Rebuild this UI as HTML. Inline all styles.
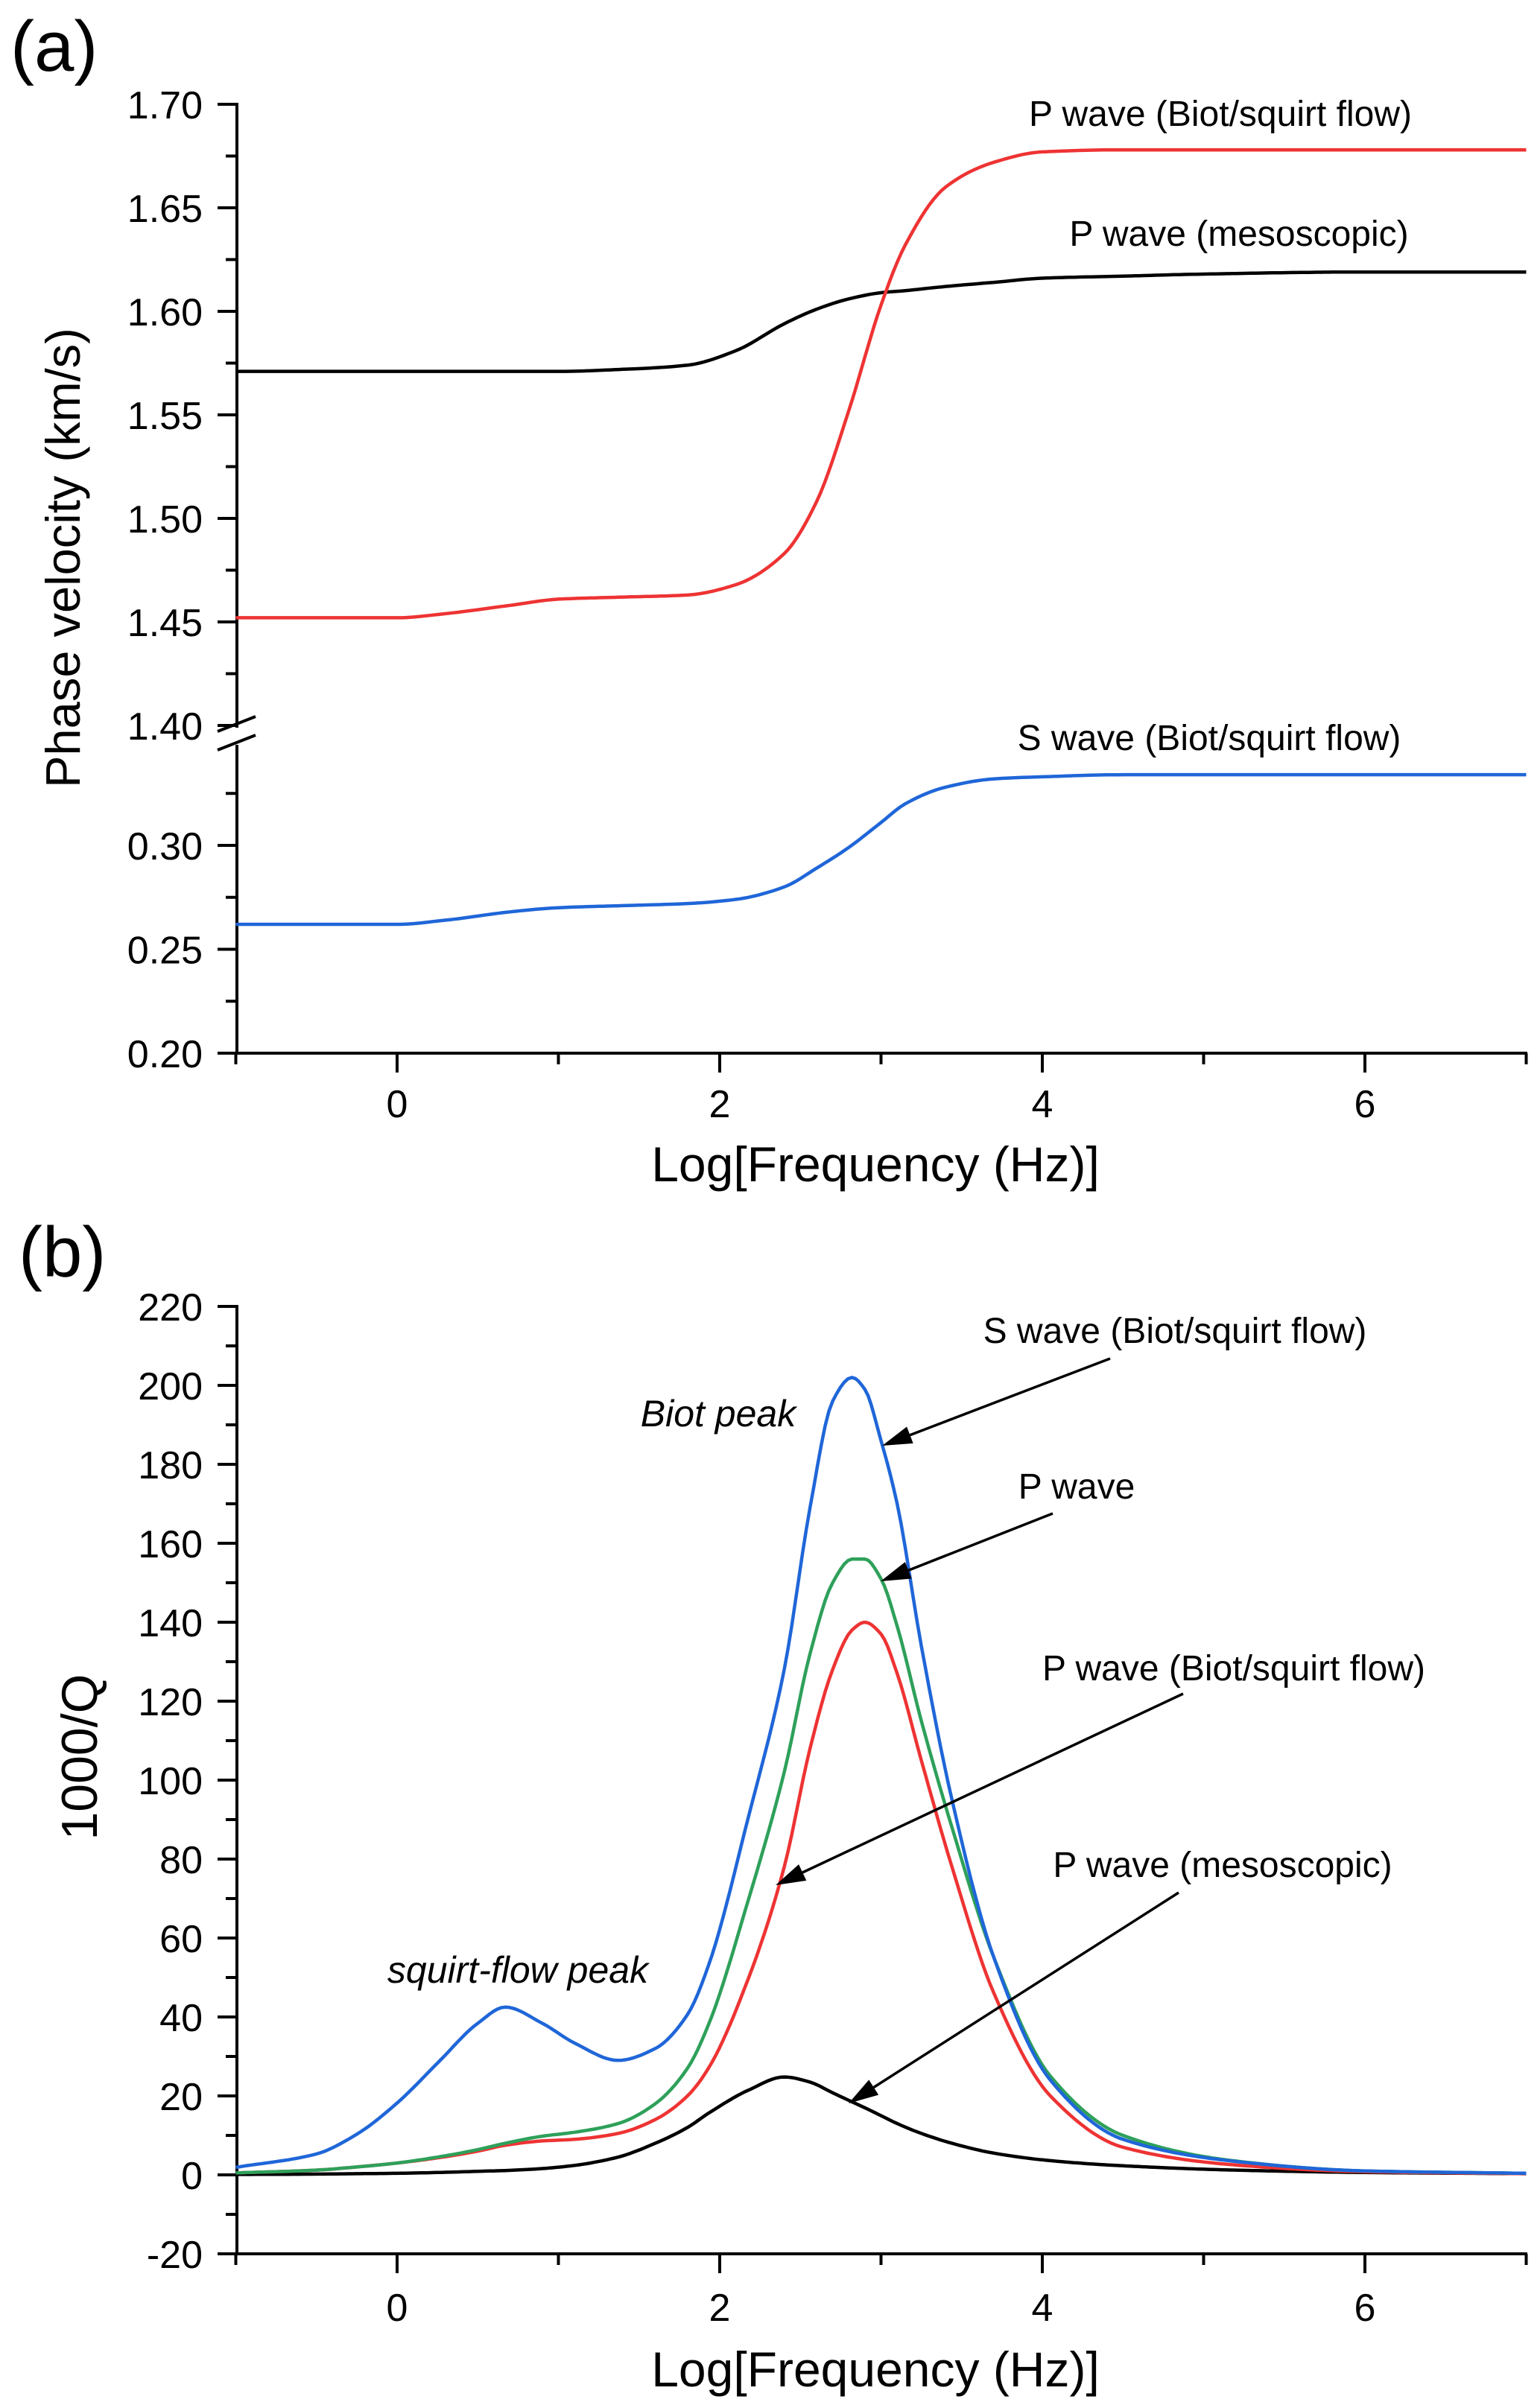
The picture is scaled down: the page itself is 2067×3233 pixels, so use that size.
<!DOCTYPE html>
<html><head><meta charset="utf-8"><style>
html,body{margin:0;padding:0;background:#fff}
svg{display:block;font-family:"Liberation Sans",Arial,sans-serif}
</style></head><body>
<svg id="fig" width="2067" height="3233" viewBox="0 0 2067 3233" xmlns="http://www.w3.org/2000/svg">
<g id="pa"></g>
<g id="pb"></g>
</svg>
<script>
// ---------- Panel A data ----------
const aX = [-1,0,0.3,0.7,1.0,1.4,1.8,2.1,2.4,2.6,2.8,3.0,3.15,3.4,3.7,4.0,4.5,5,6,7];
const aMeso = [1.571,1.571,1.571,1.571,1.571,1.572,1.574,1.581,1.594,1.601,1.606,1.609,1.610,1.612,1.614,1.616,1.617,1.618,1.619,1.619];
const aPBiot = [1.452,1.452,1.454,1.458,1.461,1.462,1.463,1.468,1.483,1.508,1.552,1.603,1.632,1.660,1.672,1.677,1.678,1.678,1.678,1.678];
const aSBiot = [0.262,0.262,0.264,0.268,0.270,0.271,0.272,0.274,0.280,0.289,0.299,0.311,0.320,0.328,0.332,0.333,0.334,0.334,0.334,0.334];
const aUpperTicks = ["1.40","1.45","1.50","1.55","1.60","1.65","1.70"];
const aLowerTicks = ["0.20","0.25","0.30"];
const xTicks = ["0","2","4","6"];
// ---------- Panel B data ----------
const bX = [-1,-0.5,-0.25,0,0.25,0.5,0.67,0.9,1.1,1.37,1.6,1.8,1.93,2.18,2.4,2.56,2.7,2.82,2.9,3.0,3.1,3.25,3.44,3.7,4.05,4.5,5.2,6,7];
const bS = [1.9,5.3,10.3,18.2,28.3,38.4,42.5,38.4,33.4,29,32,40.6,53,91,128,169,196,202,199,186,170,134,95,55,24,9,3.4,1,0.4];
const bP = [0.5,1.2,2,3,4.5,6.4,8,9.8,10.8,13,18,27,38,70,102,132,150,156,156,151,139,115,88,55,25,10,3.5,1,0.4];
const bPBiot = [0.5,1.2,2,3,4.3,6,7.5,8.6,9,10.5,14,20,27,50,78,108,128,138,140,137,127,105,78,46,20,7,2.5,0.8,0.3];
const bMeso = [0.1,0.2,0.3,0.4,0.6,0.9,1.1,1.6,2.4,4.5,8,12,15.6,21.5,24.8,23.5,20.8,18.5,17,15,13,10.5,8,5.5,3.6,2.3,1.2,0.6,0.3];
const bTicks = ["-20","0","20","40","60","80","100","120","140","160","180","200","220"];

const NS="http://www.w3.org/2000/svg";
function mk(parent,tag,attrs,text){const e=document.createElementNS(NS,tag);for(const k in attrs)e.setAttribute(k,attrs[k]);if(text!==undefined)e.textContent=text;parent.appendChild(e);return e;}
const xs = v => 533 + (v)*216.5;
const yUp = v => 140 + (1.70 - v)/0.05*139;
const yLo = v => 1414 - (v - 0.20)/0.05*139.5;
const yB = v => 2920 - v/20*106;

// monotone cubic (Fritsch-Carlson) interpolation, sampled finely
function pathFrom(X,Y,fx,fy){
  const n=X.length,h=[],d=[],m=new Array(n);
  for(let i=0;i<n-1;i++){h[i]=X[i+1]-X[i];d[i]=(Y[i+1]-Y[i])/h[i];}
  m[0]=d[0];m[n-1]=d[n-2];
  for(let i=1;i<n-1;i++){
    if(d[i-1]*d[i]<=0)m[i]=0;
    else{const w1=2*h[i]+h[i-1],w2=h[i]+2*h[i-1];m[i]=(w1+w2)/(w1/d[i-1]+w2/d[i]);}
  }
  let pts=[];
  for(let i=0;i<n-1;i++){
    const steps=Math.max(4,Math.ceil(h[i]*40));
    for(let k=(i===0?0:1);k<=steps;k++){
      const t=k/steps,t2=t*t,t3=t2*t;
      const y=(2*t3-3*t2+1)*Y[i]+(t3-2*t2+t)*h[i]*m[i]+(-2*t3+3*t2)*Y[i+1]+(t3-t2)*h[i]*m[i+1];
      pts.push(fx(X[i]+t*h[i]).toFixed(1)+","+fy(y).toFixed(1));
    }
  }
  return "M"+pts.join(" L");
}
function txt(g,x,y,s,size,opts){
  return mk(g,"text",Object.assign({x:x,y:y,"font-size":size,fill:"#000"},opts||{}),s);
}
function xAxis(g,y0,labY,titleY){
  const ax=mk(g,"line",{x1:316,y1:y0,x2:2050,y2:y0,stroke:"#000","stroke-width":4});
  
  
  for(let v=-1;v<=7;v++){
    const big=(v%2===0);
    mk(g,"line",{x1:xs(v),y1:y0,x2:xs(v),y2:y0+(big?26:15),stroke:"#000","stroke-width":4});
  }
  xTicks.forEach(s=>{
    const t=txt(g,xs(+s),labY,s,52,{"text-anchor":"middle"});
    
    
  });
  const tt=txt(g,1175,titleY,"Log[Frequency (Hz)]",66,{"text-anchor":"middle"});
  
  
}
function curve(g,xa,ya,fy,color,name){
  const p=mk(g,"path",{d:pathFrom(xa,ya,xs,fy),fill:"none",stroke:color,"stroke-width":4.5,"stroke-linejoin":"round"});
  
  
}
function arrow(g,x1,y1,x2,y2,name){
  const a=mk(g,"g",{});
  
  
  const dx=x2-x1,dy=y2-y1,L=Math.hypot(dx,dy),ux=dx/L,uy=dy/L;
  const hl=40,hw=12;
  const bx=x2-ux*hl,by=y2-uy*hl;
  mk(a,"line",{x1:x1,y1:y1,x2:bx,y2:by,stroke:"#000","stroke-width":3.5});
  mk(a,"polygon",{points:`${x2},${y2} ${bx-uy*hw},${by+ux*hw} ${bx+uy*hw},${by-ux*hw}`,fill:"#000"});
}

// ---------- Panel A ----------
const ga=document.getElementById("pa");
let t=txt(ga,14,95,"(a)",96);  
mk(ga,"line",{x1:318,y1:138,x2:318,y2:977,stroke:"#000","stroke-width":4});
mk(ga,"line",{x1:318,y1:1000,x2:318,y2:1416,stroke:"#000","stroke-width":4});
for(let i=0;i<=12;i++){const v=1.40+i*0.025;const y=yUp(v);mk(ga,"line",{x1:318,y1:y,x2:318-(i%2===0?26:15),y2:y,stroke:"#000","stroke-width":4});}
aUpperTicks.forEach(s=>{const e=txt(ga,272,yUp(+s)+19,s,52,{"text-anchor":"end"});});
for(let i=0;i<=5;i++){const v=0.20+i*0.025;const y=yLo(v);mk(ga,"line",{x1:318,y1:y,x2:318-(i%2===0?26:15),y2:y,stroke:"#000","stroke-width":4});}
aLowerTicks.forEach(s=>{const e=txt(ga,272,yLo(+s)+19,s,52,{"text-anchor":"end"});});
mk(ga,"line",{x1:292,y1:982,x2:343,y2:962,stroke:"#000","stroke-width":4});
mk(ga,"line",{x1:292,y1:1007,x2:343,y2:987,stroke:"#000","stroke-width":4});
xAxis(ga,1414,1500,1586);
t=txt(ga,0,0,"Phase velocity (km/s)",65,{"text-anchor":"middle",transform:"translate(107,749) rotate(-90)"});
 
curve(ga,aX,aMeso,yUp,"#000","p-wave-mesoscopic-velocity");
curve(ga,aX,aPBiot,yUp,"#ee3333","p-wave-biot-velocity");
curve(ga,aX,aSBiot,yLo,"#1f66d8","s-wave-biot-velocity");
t=txt(ga,1638,169,"P wave (Biot/squirt flow)",48,{"text-anchor":"middle"});  
t=txt(ga,1663,330,"P wave (mesoscopic)",48,{"text-anchor":"middle"});  
t=txt(ga,1623,1007,"S wave (Biot/squirt flow)",48,{"text-anchor":"middle"});  

// ---------- Panel B ----------
const gb=document.getElementById("pb");
t=txt(gb,25,1714,"(b)",96);  
mk(gb,"line",{x1:318,y1:1752,x2:318,y2:3028,stroke:"#000","stroke-width":4});
for(let v=-20;v<=220;v+=10){const y=yB(v);mk(gb,"line",{x1:318,y1:y,x2:318-(v%20===0?26:15),y2:y,stroke:"#000","stroke-width":4});}
bTicks.forEach(s=>{const e=txt(gb,272,yB(+s)+19,s,52,{"text-anchor":"end"});});
xAxis(gb,3026,3116,3204);
t=txt(gb,0,0,"1000/Q",68,{"text-anchor":"middle",transform:"translate(130,2359) rotate(-90)"});
 
curve(gb,bX,bMeso,yB,"#000","p-wave-mesoscopic-attenuation");
curve(gb,bX,bPBiot,yB,"#ee3333","p-wave-biot-attenuation");
curve(gb,bX,bP,yB,"#2ea05a","p-wave-attenuation");
curve(gb,bX,bS,yB,"#1f66d8","s-wave-biot-attenuation");
t=txt(gb,1577,1803,"S wave (Biot/squirt flow)",48,{"text-anchor":"middle"});  
t=txt(gb,964,1915,"Biot peak",50,{"text-anchor":"middle","font-style":"italic"});  
t=txt(gb,1445,2012,"P wave",48,{"text-anchor":"middle"});  
t=txt(gb,1656,2256,"P wave (Biot/squirt flow)",48,{"text-anchor":"middle"});  
t=txt(gb,1641,2520,"P wave (mesoscopic)",48,{"text-anchor":"middle"});  
t=txt(gb,695,2662,"squirt-flow peak",50,{"text-anchor":"middle","font-style":"italic"});  
arrow(gb,1490,1824,1184,1941,"arrow-s-wave");
arrow(gb,1413,2032,1182,2123,"arrow-p-wave");
arrow(gb,1588,2274,1041,2531,"arrow-p-wave-biot");
arrow(gb,1582,2541,1139,2824,"arrow-p-wave-mesoscopic");
</script>
</body></html>
